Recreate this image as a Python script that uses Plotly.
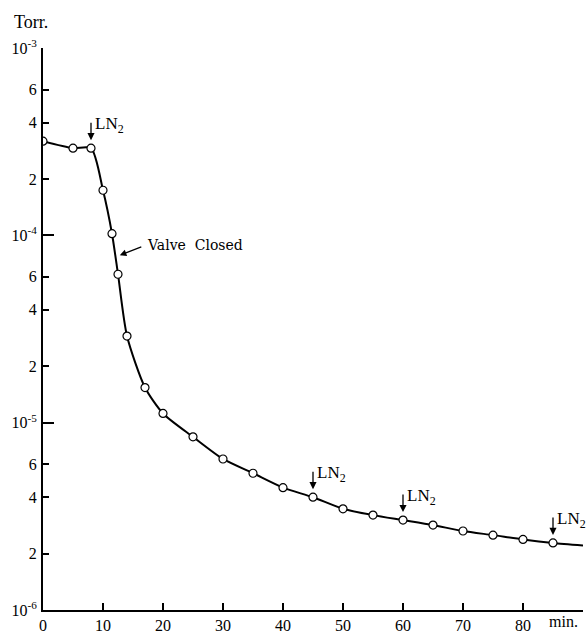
import math
import plotly.graph_objects as go

# ---- data ----
time_min = [0, 5, 8, 10, 11.5, 12.5, 14, 17, 20, 25, 30, 35, 40, 45, 50, 55, 60, 65, 70, 75, 80, 85]
pressure_torr = [3.18e-4, 2.92e-4, 2.92e-4, 1.74e-4, 1.02e-4, 6.2e-5, 2.9e-5, 1.54e-5, 1.12e-5,
                 8.4e-6, 6.4e-6, 5.37e-6, 4.5e-6, 4.0e-6, 3.47e-6, 3.21e-6, 3.02e-6, 2.84e-6,
                 2.64e-6, 2.51e-6, 2.38e-6, 2.28e-6]
curve_end_time = 90
curve_end_pressure = 2.21e-6

ln2_times = [8, 45, 60, 85]
valve_closed_time = 12.8
valve_closed_pressure = 7.83e-5

x_tickvals = [0, 10, 20, 30, 40, 50, 60, 70, 80]
x_ticktext = ["0", "10", "20", "30", "40", "50", "60", "70", "80"]
y_tickvals = [1e-6, 2e-6, 4e-6, 6e-6, 1e-5, 2e-5, 4e-5, 6e-5, 1e-4, 2e-4, 4e-4, 6e-4, 1e-3]
y_ticktext = ["10<sup>-6</sup>", "2", "4", "6", "10<sup>-5</sup>", "2", "4", "6",
              "10<sup>-4</sup>", "2", "4", "6", "10<sup>-3</sup>"]
y_decades = [1e-6, 1e-5, 1e-4, 1e-3]

FONT = "Liberation Serif"

fig = go.Figure()
fig.add_trace(go.Scatter(
    x=time_min + [curve_end_time], y=pressure_torr + [curve_end_pressure],
    mode="lines", line=dict(color="black", width=2, shape="spline", smoothing=0.7),
    hoverinfo="skip"))
fig.add_trace(go.Scatter(
    x=time_min, y=pressure_torr, mode="markers",
    marker=dict(symbol="circle", size=8, color="white", line=dict(color="black", width=1.2))))
# dummy trace for the overlay axis carrying long decade ticks
fig.add_trace(go.Scatter(x=[None], y=[None], yaxis="y2", showlegend=False))

annotations = []
p_lookup = dict(zip(time_min, pressure_torr))
for t in ln2_times:
    yl = math.log10(p_lookup[t])
    annotations.append(dict(x=t, y=yl, xref="x", yref="y", text="", showarrow=True,
                            ax=0, ay=-27, standoff=8, arrowhead=2, arrowsize=1.1,
                            arrowwidth=1.3, arrowcolor="black"))
    annotations.append(dict(x=t, y=yl, xref="x", yref="y", text="LN<sub>2</sub>",
                            showarrow=False, xanchor="left", yanchor="middle",
                            xshift=2, yshift=23, font=dict(family=FONT, size=17, color="black")))

vy = math.log10(valve_closed_pressure)
annotations.append(dict(x=valve_closed_time, y=vy, xref="x", yref="y", text="",
                        showarrow=True, ax=23, ay=-9, arrowhead=2, arrowsize=1.1,
                        arrowwidth=1.2, arrowcolor="black"))
annotations.append(dict(x=valve_closed_time, y=vy, xref="x", yref="y", text="Valve  Closed",
                        showarrow=False, xanchor="left", yanchor="middle", xshift=25, yshift=10,
                        font=dict(family="DejaVu Serif", size=14, color="black")))
annotations.append(dict(x=0, y=1, xref="paper", yref="paper", text="Torr.", showarrow=False,
                        xanchor="left", yanchor="middle", xshift=-31, yshift=26,
                        font=dict(family=FONT, size=18, color="black")))
annotations.append(dict(x=86.8, y=0, xref="x", yref="paper", text="min.", showarrow=False,
                        xanchor="center", yanchor="middle", yshift=-11,
                        font=dict(family=FONT, size=16, color="black")))

fig.update_layout(
    width=586, height=637,
    margin=dict(l=43, r=3, t=48, b=23),
    paper_bgcolor="white", plot_bgcolor="white",
    showlegend=False,
    font=dict(family=FONT, size=16, color="black"),
    xaxis=dict(range=[0, 90], tickmode="array", tickvals=x_tickvals, ticktext=x_ticktext,
               ticks="inside", ticklen=7, tickwidth=1.5, tickcolor="black",
               showline=True, linecolor="black", linewidth=2, showgrid=False, zeroline=False,
               tickfont=dict(family=FONT, size=16, color="black")),
    yaxis=dict(type="log", range=[-6, -3], tickmode="array", tickvals=y_tickvals,
               ticktext=y_ticktext, ticks="inside", ticklen=6, tickwidth=1.5, tickcolor="black",
               showline=True, linecolor="black", linewidth=2, showgrid=False, zeroline=False,
               ticklabelstandoff=1,
               tickfont=dict(family=FONT, size=16, color="black")),
    yaxis2=dict(type="log", range=[-6, -3], overlaying="y", side="left", anchor="x",
                tickmode="array", tickvals=y_decades, ticks="inside", ticklen=11,
                tickwidth=1.5, tickcolor="black", showticklabels=False, showline=False,
                showgrid=False, zeroline=False),
    annotations=annotations,
)

fig.write_html("out.html", config={"displayModeBar": False},
               post_script="document.body.style.margin='0';document.body.style.overflow='hidden';")
